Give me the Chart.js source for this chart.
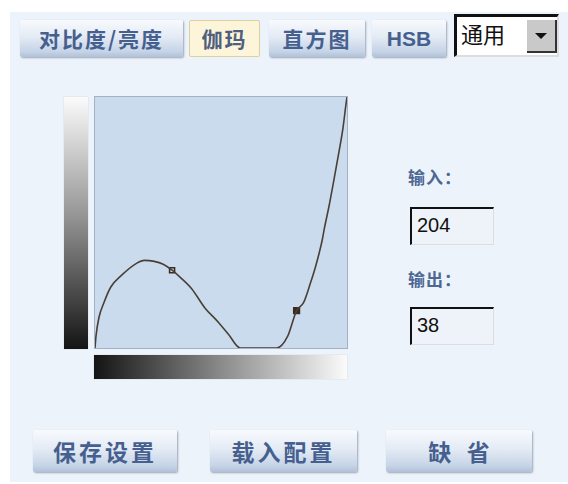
<!DOCTYPE html>
<html>
<head>
<meta charset="utf-8">
<script src="https://cdn.jsdelivr.net/npm/chart.js@4/dist/chart.umd.min.js"></script>
<style>
  html, body { margin: 0; padding: 0; background: #fff; }
  body { width: 568px; height: 484px; position: relative; overflow: hidden;
         font-family: "Noto Sans CJK SC", "DejaVu Sans", sans-serif; }
  #panel { position: absolute; left: 10px; top: 12px; right: 0; bottom: 2px; background: #ecf3fb; }
  .btn { position: absolute; box-sizing: border-box; text-align: center; color: #45608f;
         font-weight: bold; border-radius: 2px; white-space: nowrap;
         background: linear-gradient(#f8fafd 0%, #e4ebf5 45%, #c6d4e6 85%, #b0c1d8 100%);
         box-shadow: 1px 1px 2px rgba(60,70,90,0.45); }
  .tab { top: 20px; height: 37px; line-height: 37px; font-size: 21px; letter-spacing: 2px; }
  .tab.active { background: #fcf5da; border: 1px solid #ddcf9e; box-shadow: none; color: #505f80; line-height: 35px; }
  .bottom { top: 430px; height: 42px; line-height: 42px; font-size: 23px; letter-spacing: 3px; }
  #select { position: absolute; left: 454px; top: 14px; width: 105px; height: 43px; box-sizing: border-box;
            background: #fff; border-top: 3px solid #111; border-left: 3px solid #111;
            border-right: 2px solid #ddd; border-bottom: 2px solid #ddd; }
  #select span { position: absolute; left: 4px; top: 1px; font-size: 22px; line-height: 30px; color: #111; }
  #arrow { position: absolute; right: 0px; top: 3px; width: 30px; height: 33px; background: #c9c9c9;
           border-right: 2px solid #333; border-bottom: 2px solid #333; box-sizing: border-box; }
  #arrow:after { content: ""; position: absolute; left: 8px; top: 13px; border-left: 6px solid transparent;
                 border-right: 6px solid transparent; border-top: 6px solid #111; }
  .lbl { position: absolute; left: 408px; font-size: 17px; line-height: 20px; font-weight: bold; color: #4d6793; letter-spacing: 1px; }
  .inp { position: absolute; left: 410px; width: 84px; height: 38px; box-sizing: border-box; background: #eef3f9;
         border-top: 2px solid #111; border-left: 2px solid #111; border-right: 1px solid #ddd; border-bottom: 1px solid #ddd;
         font-family: "Liberation Sans", Arial, sans-serif; font-size: 20px; line-height: 32px; color: #111; padding-left: 5px; }
  #vbar { position: absolute; left: 64px; top: 97px; width: 24px; height: 252px;
          background: linear-gradient(#fbfbfb, #9a9a9a 45%, #141414); box-shadow: 0 0 1px #bbb; }
  #hbar { position: absolute; left: 94px; top: 355px; width: 253px; height: 24px;
          background: linear-gradient(to right, #141414, #8a8a8a 50%, #fbfbfb); box-shadow: 0 0 1px #bbb; }
  #plot { position: absolute; left: 94px; top: 96px; width: 254px; height: 253px; }
</style>
</head>
<body>
<div id="panel"></div>

<div class="btn tab" style="left:20px;width:163px;">对比度/亮度</div>
<div class="btn tab active" style="left:189px;width:71px;">伽玛</div>
<div class="btn tab" style="left:269px;width:96px;">直方图</div>
<div class="btn tab" style="left:372px;width:74px;font-family:'Liberation Sans',Arial,sans-serif;font-size:21px;letter-spacing:0;">HSB</div>
<div id="select"><span>通用</span><div id="arrow"></div></div>

<div id="vbar"></div>
<div id="hbar"></div>
<div id="plot"><canvas id="gammaChart"></canvas></div>

<div class="lbl" style="top:167px;">输入：</div>
<div class="inp" style="top:207px;" id="inVal"></div>
<div class="lbl" style="top:269px;">输出：</div>
<div class="inp" style="top:307px;" id="outVal"></div>

<div class="btn bottom" style="left:33px;width:144px;">保存设置</div>
<div class="btn bottom" style="left:210px;width:147px;">载入配置</div>
<div class="btn bottom" style="left:386px;width:146px;letter-spacing:0;">缺&nbsp;&nbsp;&nbsp;省</div>

<script>
// curve samples (input -> output, 0..255)
const curveIn  = [0, 1, 4, 9, 16, 27, 42, 50, 60, 69, 78, 86, 98, 111, 125, 135, 147, 184, 195, 204, 211, 218, 223, 230, 232, 237, 242, 247, 251, 254, 255];
const curveOut = [0, 12, 31, 46, 62, 74, 86, 89, 88, 85, 79, 72, 60, 41, 26, 14, 0, 0, 12, 38, 46, 66, 82, 110, 121, 145, 172, 200, 224, 248, 255];

// control points on the curve
const knotIn  = [78, 204];
const knotOut = [79, 38];

const plotBg = '#cadbee';

// plot background + frame
const frame = {
  id: 'frame',
  beforeDraw(chart) {
    const { ctx, chartArea: a } = chart;
    ctx.save();
    ctx.fillStyle = plotBg;
    ctx.fillRect(a.left, a.top, a.right - a.left, a.bottom - a.top);
    ctx.restore();
  },
  afterDraw(chart) {
    const { ctx, chartArea: a } = chart;
    ctx.save();
    ctx.strokeStyle = '#a2b1c4';
    ctx.lineWidth = 1;
    ctx.strokeRect(a.left - 0.5, a.top - 0.5, a.right - a.left + 1, a.bottom - a.top + 1);
    ctx.restore();
  }
};

document.addEventListener("DOMContentLoaded", function () {
  document.getElementById('inVal').textContent = knotIn[1];
  document.getElementById('outVal').textContent = knotOut[1];

  const ctx = document.getElementById('gammaChart').getContext('2d');
  new Chart(ctx, {
    type: 'line',
    data: {
      datasets: [
        {
          data: curveIn.map((x, i) => ({ x: x, y: curveOut[i] })),
          borderColor: '#4a3f36',
          borderWidth: 1.6,
          pointRadius: 0,
          cubicInterpolationMode: 'monotone',
          clip: 2
        },
        {
          data: knotIn.map((x, i) => ({ x: x, y: knotOut[i] })),
          showLine: false,
          pointStyle: 'rect',
          pointRadius: [3.5, 4],
          pointBorderWidth: 1.6,
          pointBorderColor: '#3b2b1e',
          pointBackgroundColor: [plotBg, '#3b2b1e']
        }
      ]
    },
    options: {
      responsive: true,
      maintainAspectRatio: false,
      animation: false,
      layout: { padding: 1, autoPadding: false },
      plugins: { legend: { display: false }, tooltip: { enabled: false } },
      scales: {
        x: { type: 'linear', min: 0, max: 255, display: false },
        y: { min: 0, max: 255, display: false }
      }
    },
    plugins: [frame]
  });
});
</script>
</body>
</html>
